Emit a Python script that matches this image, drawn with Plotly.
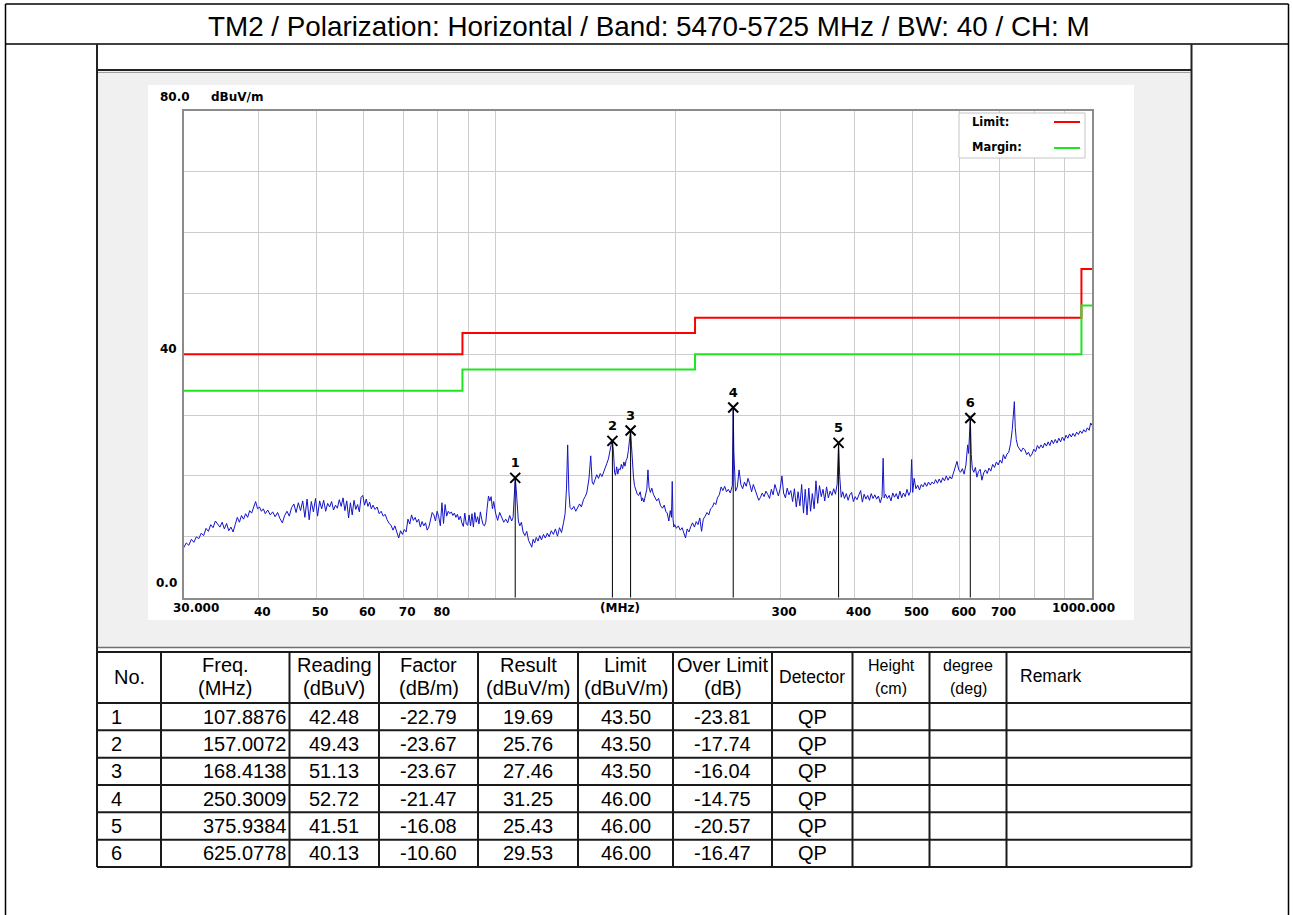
import numpy as np
import plotly.graph_objects as go

W, H = 1293, 915

title_text = "TM2 / Polarization: Horizontal / Band: 5470-5725 MHz / BW: 40 / CH: M"

# ---------------- measured spectrum (MHz, dBuV/m) ----------------
trace_freq = [
    30.0, 30.3, 30.6, 30.9, 31.2, 31.5, 31.8, 32.1, 32.4, 32.7,
    33.0, 33.3, 33.6, 33.9, 34.2, 34.5, 34.8, 35.1, 35.4, 35.7,
    36.0, 36.3, 36.6, 36.9, 37.2, 37.5, 37.8, 38.1, 38.4, 38.7,
    39.0, 39.3, 39.6, 39.9, 40.2, 40.5, 40.8, 41.1, 41.5, 41.9,
    42.3, 42.7, 43.1, 43.5, 43.9, 44.3, 44.7, 45.1, 45.5, 45.9,
    46.3, 46.7, 47.1, 47.5, 47.9, 48.3, 48.7, 49.1, 49.5, 49.9,
    50.3, 50.7, 51.1, 51.5, 51.9, 52.3, 52.7, 53.1, 53.5, 53.9,
    54.3, 54.7, 55.1, 55.5, 55.9, 56.3, 56.7, 57.1, 57.5, 57.9,
    58.3, 58.7, 59.1, 59.5, 59.9, 60.3, 60.7, 61.1, 61.5, 61.9,
    62.3, 62.8, 63.3, 63.8, 64.3, 64.8, 65.3, 65.8, 66.3, 66.8,
    67.3, 67.8, 68.3, 68.8, 69.3, 69.8, 70.3, 70.8, 71.3, 71.8,
    72.3, 72.8, 73.3, 73.8, 74.3, 74.8, 75.3, 75.8, 76.3, 76.8,
    77.3, 77.8, 78.3, 78.8, 79.3, 79.8, 80.3, 80.8, 81.3, 81.8,
    82.3, 82.8, 83.3, 83.8, 84.3, 84.8, 85.3, 85.8, 86.3, 86.8,
    87.3, 87.8, 88.3, 88.8, 89.3, 89.8, 90.3, 90.8, 91.3, 91.8,
    92.3, 92.8, 93.3, 93.8, 94.3, 94.8, 95.3, 95.8, 96.3, 96.8,
    97.3, 97.8, 98.3, 98.8, 99.3, 100.0, 100.8, 101.6, 102.4, 103.2,
    104.0, 104.8, 105.6, 106.4, 107.0, 107.5, 107.9, 108.3, 108.7, 109.2,
    109.8, 110.5, 111.2, 112.0, 112.8, 113.6, 114.4, 115.0, 115.6, 116.3,
    117.0, 117.8, 118.6, 119.4, 120.3, 121.2, 122.1, 123.0, 124.0, 125.0,
    126.0, 127.0, 128.0, 129.0, 130.0, 130.8, 131.5, 132.1, 132.7, 133.3,
    134.3, 135.3, 136.3, 137.3, 138.3, 139.3, 140.4, 141.3, 142.2, 143.4,
    144.4, 145.2, 145.9, 146.8, 147.8, 148.8, 149.8, 150.8, 151.7, 152.7,
    153.6, 154.6, 155.5, 156.3, 157.0, 157.7, 158.3, 158.9, 159.6, 160.3,
    161.0, 161.8, 162.5, 163.3, 164.1, 164.8, 165.5, 166.2, 167.0, 167.7,
    168.4, 169.0, 169.6, 170.3, 171.0, 171.8, 172.8, 173.8, 174.8, 175.8,
    176.4, 177.3, 178.3, 179.3, 180.1, 180.8, 181.8, 182.8, 183.9, 185.0,
    186.3, 187.6, 189.1, 190.5, 191.8, 192.9, 194.0, 195.2, 196.3, 197.2,
    197.8, 198.4, 199.0, 199.7, 201.0, 202.5, 204.0, 205.5, 207.0, 208.2,
    209.5, 211.0, 212.5, 213.9, 215.5, 217.0, 218.5, 220.0, 221.5, 223.0,
    224.6, 226.2, 227.8, 229.3, 231.0, 232.5, 234.0, 235.5, 237.2, 238.9,
    240.5, 242.2, 243.9, 245.6, 247.5, 249.4, 250.3, 250.9, 252.5, 254.3,
    256.0, 257.8, 259.6, 261.4, 263.2, 265.0, 266.8, 268.7, 270.5, 272.4,
    274.3, 276.2, 278.1, 280.0, 282.0, 284.0, 285.9, 288.0, 290.0, 292.0,
    294.0, 295.9, 298.0, 300.0, 302.1, 304.0, 306.2, 308.3, 310.4, 312.6,
    314.8, 317.0, 319.3, 321.5, 323.8, 326.0, 328.3, 330.5, 332.8, 335.1,
    337.4, 339.7, 342.1, 344.5, 346.8, 349.2, 351.6, 354.0, 356.4, 358.9,
    361.4, 363.9, 366.4, 368.9, 371.4, 373.8, 375.9, 377.6, 379.8, 382.0,
    384.6, 387.3, 390.0, 392.6, 395.3, 398.0, 400.8, 403.6, 406.4, 409.3,
    412.1, 414.9, 417.8, 420.6, 423.5, 426.4, 429.4, 432.4, 435.4, 438.4,
    441.5, 444.6, 446.5, 448.2, 450.7, 453.8, 457.0, 460.2, 463.4, 466.5,
    469.7, 473.0, 476.3, 479.6, 482.8, 486.2, 489.6, 493.0, 496.4, 498.4,
    500.5, 503.2, 506.7, 510.2, 513.8, 517.3, 520.9, 524.5, 528.2, 531.9,
    535.6, 539.2, 543.0, 546.7, 550.6, 554.4, 558.1, 561.9, 565.8, 569.7,
    573.7, 577.6, 581.6, 585.7, 589.8, 593.8, 597.9, 602.1, 606.3, 610.4,
    614.6, 618.8, 621.0, 625.1, 627.5, 630.0, 633.6, 637.5, 641.3, 645.1,
    649.4, 653.8, 658.3, 662.8, 667.3, 671.9, 676.6, 681.5, 686.4, 691.3,
    696.2, 701.2, 706.1, 710.3, 715.2, 720.2, 725.2, 730.2, 735.0, 739.0,
    741.0, 743.5, 746.5, 750.6, 755.8, 761.0, 766.3, 771.7, 777.1, 782.5,
    787.9, 793.3, 798.8, 804.3, 809.9, 815.6, 821.3, 827.1, 832.9, 838.7,
    844.3, 849.9, 855.8, 861.7, 867.7, 873.7, 879.8, 885.8, 892.0, 898.2,
    904.5, 910.8, 917.0, 923.2, 929.6, 936.0, 942.5, 949.0, 955.5, 962.1,
    968.8, 975.5, 982.3, 989.1, 995.0, 1000.0,
]
trace_level = [
    8.2, 9.0, 8.6, 9.6, 9.1, 10.0, 9.7, 10.6, 10.2, 11.4,
    10.9, 12.0, 11.5, 12.6, 12.1, 11.6, 12.4, 11.3, 12.2, 11.0,
    11.6, 10.8, 12.0, 13.2, 12.4, 13.5, 12.9, 13.8, 13.2, 14.3,
    13.9, 15.0, 15.8, 14.6, 14.9, 14.2, 14.6, 13.8, 14.4, 13.6,
    14.1, 13.3, 14.0, 13.0, 12.3, 13.5, 14.2, 13.4, 14.8, 15.4,
    14.0, 15.6, 14.3, 15.9, 13.2, 16.2, 12.8, 15.8, 14.1, 16.3,
    13.4, 15.9, 14.6, 16.0, 14.2, 15.5, 14.9, 15.8, 14.4, 15.2,
    14.7, 16.1, 15.0, 16.4, 14.3, 15.9, 13.1, 15.6, 13.6, 16.0,
    14.5, 15.3, 14.1, 16.5, 16.8, 15.2, 16.2, 15.0, 15.7, 14.6,
    15.2, 14.5, 14.9, 13.8, 14.2, 13.4, 13.7, 12.8, 12.2, 11.9,
    11.1, 11.8, 10.6, 9.8, 11.0, 10.4, 11.2, 10.8, 12.9, 12.1,
    13.6, 12.7, 13.2, 12.4, 12.9, 11.6, 12.5, 11.8, 12.3, 11.1,
    11.6, 13.0, 14.0, 13.6, 12.6, 14.2, 13.3, 11.8, 15.6, 12.2,
    15.3, 13.4, 14.2, 13.8, 14.1, 13.5, 13.9, 13.2, 13.7, 12.8,
    13.4, 12.3, 11.7, 13.9, 12.1, 11.9, 13.6, 11.8, 13.8, 11.6,
    14.0, 12.4, 13.3, 12.1, 14.1, 12.9, 12.0, 11.8, 12.4, 14.7,
    16.7, 15.9, 16.6, 14.6, 15.8, 13.9, 12.7, 14.0, 13.1, 12.4,
    12.9, 12.3, 13.5, 12.6, 13.2, 16.5, 19.7, 17.8, 14.5, 12.6,
    11.8, 12.4, 10.8, 10.2, 10.9, 9.4, 8.8, 8.3, 9.6, 9.0,
    9.9, 9.3, 10.2, 9.5, 10.4, 9.8, 10.6, 10.0, 11.0, 10.4,
    11.3, 10.1, 11.5, 10.7, 12.3, 13.8, 18.0, 25.1, 17.5, 14.8,
    14.5, 15.0, 14.2, 14.8, 15.4, 14.9, 16.1, 16.6, 17.2, 19.5,
    23.3, 19.0, 18.6, 19.4, 20.2, 19.6, 20.4, 19.9, 20.5, 21.3,
    22.0, 22.8, 24.2, 25.2, 25.8, 23.8, 20.6, 20.1, 21.5, 20.3,
    21.2, 21.0, 21.9, 21.2, 22.3, 21.6, 22.5, 22.9, 24.2, 25.8,
    27.5, 25.0, 22.0, 19.8, 18.4, 17.6, 17.0, 16.8, 17.4, 15.9,
    16.4, 15.7, 16.9, 17.8, 21.0, 18.2, 17.3, 18.0, 17.0, 16.6,
    15.9, 16.3, 15.1, 14.7, 15.2, 14.2, 13.9, 12.6, 14.3, 13.2,
    19.1, 12.9, 11.6, 12.0, 11.4, 11.8, 11.1, 11.5, 10.6, 9.8,
    11.3, 10.8, 11.7, 12.3, 11.6, 12.5, 12.0, 13.1, 10.9, 12.9,
    13.4, 14.0, 13.6, 14.6, 14.9, 15.6, 15.3, 16.4, 16.9, 18.2,
    17.6, 18.3, 17.4, 17.8, 17.2, 18.4, 31.3, 24.0, 17.5, 18.2,
    21.0, 18.6, 17.9, 19.0, 18.3, 19.6, 18.7, 17.4, 18.6, 17.6,
    16.8, 16.0, 16.5, 17.2, 16.6, 17.5, 17.0, 16.3, 17.8, 16.9,
    18.6, 17.5, 16.7, 17.9, 20.0, 17.2, 16.4, 18.0, 16.9, 17.6,
    15.8, 17.9, 14.9, 17.4, 15.1, 18.6, 13.9, 17.8, 13.6, 18.0,
    14.2, 17.1, 14.6, 19.2, 15.5, 18.4, 16.6, 17.8, 15.9, 18.2,
    16.4, 17.5, 16.8, 17.9, 17.0, 18.6, 25.4, 19.9, 16.5, 17.4,
    16.3, 17.1, 16.0, 16.9, 17.3, 15.8, 16.6, 16.1, 16.9, 17.6,
    15.7, 17.0, 16.2, 16.8, 16.0, 17.1, 16.3, 16.9, 16.2, 16.7,
    15.6, 16.6, 22.9, 16.4, 17.0, 16.3, 16.8, 15.9, 17.2, 16.5,
    17.1, 16.2, 17.5, 16.4, 17.2, 16.6, 17.8, 16.8, 17.5, 22.7,
    17.3, 19.6, 17.9, 18.5, 17.7, 18.6, 18.2, 18.9, 18.3, 19.0,
    18.5, 19.0, 18.7, 19.4, 18.8, 19.5, 18.9, 19.7, 19.2, 20.0,
    19.3, 19.9, 19.5, 20.6, 21.4, 22.4, 21.0, 20.6, 21.2, 20.3,
    21.8, 25.1, 23.7, 29.5, 23.5, 21.2, 20.6, 21.4, 19.8, 20.7,
    21.1, 19.3, 20.5, 21.0, 20.4, 21.3, 20.8, 21.9, 21.4, 22.3,
    21.8, 22.6, 22.1, 23.5, 22.8, 23.6, 23.9, 25.3, 27.6, 30.5,
    32.2, 28.0, 26.0, 24.9, 24.5, 24.0, 24.6, 24.3, 23.5, 23.9,
    23.2, 23.6, 24.4, 24.0, 25.0, 24.5, 25.1, 24.6, 25.4, 24.9,
    25.6, 25.0, 25.9, 25.3, 26.0, 25.4, 26.2, 25.6, 26.4, 25.8,
    26.7, 26.2, 26.9, 26.4, 27.0, 26.5, 27.2, 26.8, 27.4, 27.0,
    27.6, 27.2, 27.9, 27.5, 28.7, 28.3,
]

# ---------------- limit / margin (step lines) ----------------
limit_freq = [30, 88, 216, 960, 1000]
limit_level = [40.0, 43.5, 46.0, 54.0, 54.0]
margin_level = [34.0, 37.5, 40.0, 48.0, 48.0]

# ---------------- marker table ----------------
mk_no = [1, 2, 3, 4, 5, 6]
mk_freq = [107.8876, 157.0072, 168.4138, 250.3009, 375.9384, 625.0778]
mk_reading = [42.48, 49.43, 51.13, 52.72, 41.51, 40.13]
mk_factor = [-22.79, -23.67, -23.67, -21.47, -16.08, -10.60]
mk_result = [19.69, 25.76, 27.46, 31.25, 25.43, 29.53]
mk_limit = [43.50, 43.50, 43.50, 46.00, 46.00, 46.00]
mk_over = [-23.81, -17.74, -16.04, -14.75, -20.57, -16.47]
mk_detector = ["QP", "QP", "QP", "QP", "QP", "QP"]

x_tick_vals = [40, 50, 60, 70, 80, 90, 100, 200, 300, 400, 500, 600, 700, 800, 900]
x_tick_text = ["40", "50", "60", "70", "80", "", "", "", "300", "400", "500", "600", "700", "", ""]
y_grid_vals = [10, 20, 30, 40, 50, 60, 70]

table_header = [
    ["No."], ["Freq.", "(MHz)"], ["Reading", "(dBuV)"], ["Factor", "(dB/m)"],
    ["Result", "(dBuV/m)"], ["Limit", "(dBuV/m)"], ["Over Limit", "(dB)"],
    ["Detector"], ["Height", "(cm)"], ["degree", "(deg)"], ["Remark"],
]


def X(p):
    return p / W


def Y(p):
    return 1 - p / H


PLOT_FONT = dict(family="DejaVu Sans", size=12, color="black", weight="bold")
MARK_FONT = dict(family="DejaVu Sans", size=13, color="black", weight="bold")
TAB_FONT = "Liberation Sans, Arial, sans-serif"

fig = go.Figure()

fig.add_trace(go.Scatter(x=trace_freq, y=trace_level, mode="lines",
                         line=dict(color="#1414c8", width=1), hoverinfo="skip"))
fig.add_trace(go.Scatter(x=limit_freq, y=limit_level, mode="lines",
                         line=dict(color="#ff0000", width=2, shape="hv")))
fig.add_trace(go.Scatter(x=limit_freq, y=margin_level, mode="lines",
                         line=dict(color="#1ee61e", width=2, shape="hv")))

stem_x, stem_y = [], []
for f, r in zip(mk_freq, mk_result):
    stem_x += [f, f, None]
    stem_y += [0, r, None]
fig.add_trace(go.Scatter(x=stem_x, y=stem_y, mode="lines",
                         line=dict(color="black", width=1)))
fig.add_trace(go.Scatter(
    x=mk_freq, y=mk_result, mode="markers+text",
    text=[str(n) for n in mk_no], textposition="top center",
    textfont=MARK_FONT, cliponaxis=False,
    marker=dict(symbol="x-thin", size=10, color="black",
                line=dict(width=2, color="black"))))

shapes = []


def line(x0, y0, x1, y1, color="black", width=1.5, layer="above"):
    shapes.append(dict(type="line", xref="paper", yref="paper",
                       x0=X(x0), y0=Y(y0), x1=X(x1), y1=Y(y1),
                       line=dict(color=color, width=width), layer=layer))


def rect(x0, y0, x1, y1, fill, lc=None, lw=0, layer="below"):
    shapes.append(dict(type="rect", xref="paper", yref="paper",
                       x0=X(x0), y0=Y(y0), x1=X(x1), y1=Y(y1),
                       fillcolor=fill, line=dict(color=lc or fill, width=lw), layer=layer))


# page frame + title bar
line(5.5, 4, 1288.5, 4, width=1.5)
line(5.5, 4, 5.5, 915, width=1.5)
line(1288.5, 4, 1288.5, 915, width=1.5)
line(5.5, 44, 1288.5, 44, width=1.5)

# chart panel
rect(98, 71, 1190, 647, "#f0f0f0")
rect(148, 85, 1134, 620, "#ffffff")
line(97, 44, 97, 652, color="#222222", width=2)
line(1191.5, 44, 1191.5, 652, color="#222222", width=2)
line(97, 70, 1191.5, 70, color="#222222", width=2)
line(98, 72.5, 1190, 72.5, color="#a0a0a0", width=1)
line(98, 647.5, 1190, 647.5, color="#707070", width=1.5)

# legend box
rect(959, 113, 1085, 158, "#ffffff", lc="#c4c4c4", lw=1, layer="above")
line(1054, 122, 1080, 122, color="#ff0000", width=2)
line(1054, 148, 1080, 148, color="#1ee61e", width=2)

# table grid
col_edges = [97, 161, 289.5, 379, 478, 578, 673, 772, 852.5, 929.5, 1006.5, 1191.5]
row_edges = [652, 703, 730.3, 757.7, 785, 812.3, 839.7, 867]
for cx in col_edges:
    line(cx, row_edges[0], cx, row_edges[-1], color="#1a1a1a", width=2)
for ry in row_edges:
    line(col_edges[0], ry, col_edges[-1], ry, color="#1a1a1a", width=2)

annotations = []


def text(t, x, y, size, xanchor="center", font=TAB_FONT, bold=False, yanchor="middle"):
    f = dict(family=font, size=size, color="black")
    if bold:
        f["weight"] = "bold"
    annotations.append(dict(text=t, x=X(x), y=Y(y), xref="paper", yref="paper",
                            xanchor=xanchor, yanchor=yanchor, showarrow=False, font=f))


# title
text(title_text, 648.5, 27, 27.8)

# axis decorations
text("80.0", 158, 97, 12, xanchor="left", font="DejaVu Sans", bold=True)
text("dBuV/m", 209, 97, 12, xanchor="left", font="DejaVu Sans", bold=True)
text("40", 179, 349, 12, xanchor="right", font="DejaVu Sans", bold=True)
text("0.0", 179, 583, 12, xanchor="right", font="DejaVu Sans", bold=True)
text("30.000", 171, 608, 12, xanchor="left", font="DejaVu Sans", bold=True)
text("(MHz)", 620, 608, 12, font="DejaVu Sans", bold=True)
text("1000.000", 1117, 608, 12, xanchor="right", font="DejaVu Sans", bold=True)

# legend labels
text("Limit:", 970, 122, 11.5, xanchor="left", font="DejaVu Sans", bold=True)
text("Margin:", 970, 147, 11.5, xanchor="left", font="DejaVu Sans", bold=True)

# table header
hdr_sizes = [20, 20, 20, 20, 20, 20, 20, 17.5, 16, 16, 17.5]
for i, lines in enumerate(table_header):
    cx = (col_edges[i] + col_edges[i + 1]) / 2
    if i == 10:
        text(lines[0], 1018, 676, hdr_sizes[i], xanchor="left")
    elif len(lines) == 1:
        text(lines[0], cx, 677, hdr_sizes[i])
    else:
        text(lines[0], cx, 665, hdr_sizes[i])
        text(lines[1], cx, 688, hdr_sizes[i])

# table rows
for r in range(len(mk_no)):
    cy = (row_edges[r + 1] + row_edges[r + 2]) / 2
    text(str(mk_no[r]), 109, cy, 20, xanchor="left")
    text(f"{mk_freq[r]:.4f}", 288, cy, 20, xanchor="right")
    vals = [f"{mk_reading[r]:.2f}", f"{mk_factor[r]:.2f}", f"{mk_result[r]:.2f}",
            f"{mk_limit[r]:.2f}", f"{mk_over[r]:.2f}", mk_detector[r]]
    for j, v in enumerate(vals):
        cx = (col_edges[j + 2] + col_edges[j + 3]) / 2
        text(v, cx, cy, 20)

fig.update_layout(
    width=W, height=H, autosize=False,
    margin=dict(l=0, r=0, t=0, b=0, pad=0),
    paper_bgcolor="white", plot_bgcolor="white",
    showlegend=False,
    shapes=shapes, annotations=annotations,
    xaxis=dict(type="log", range=[np.log10(30), np.log10(1000)],
               domain=[X(183.7), X(1092)], showline=True, linecolor="#8c8c8c",
               linewidth=2, mirror=True, showgrid=True, gridcolor="#cdcdcd",
               gridwidth=1, tickmode="array", tickvals=x_tick_vals,
               ticktext=x_tick_text, ticks="", tickfont=PLOT_FONT,
               ticklabelshift=4, ticklabelstandoff=2, zeroline=False,
               fixedrange=True),
    yaxis=dict(range=[0, 80], domain=[Y(597.7), Y(110.7)], showline=True,
               linecolor="#8c8c8c", linewidth=2, mirror=True, showgrid=True,
               gridcolor="#cdcdcd", gridwidth=1, tickmode="array",
               tickvals=y_grid_vals, showticklabels=False, ticks="",
               zeroline=False, fixedrange=True),
)

fig.write_html(
    "out.html",
    config={"displayModeBar": False},
    post_script="document.body.style.margin='0px';document.body.style.overflow='hidden';",
)
